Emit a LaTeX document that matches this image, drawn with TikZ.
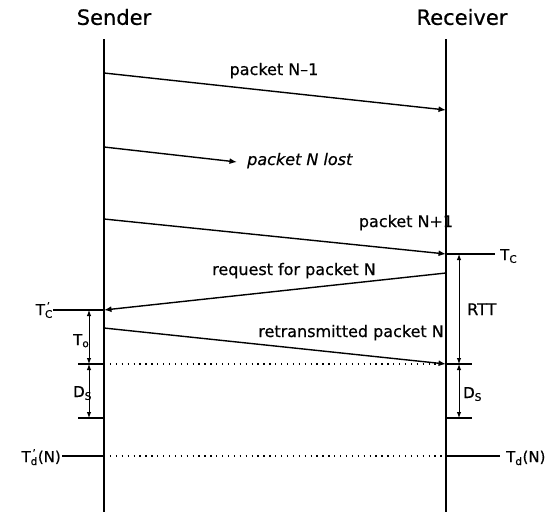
\documentclass[tikz,border=0pt]{standalone}
\usepackage{fontspec}
\setmainfont{DejaVu Sans}[FakeBold=0.6]
\usetikzlibrary{arrows.meta}

\newcommand{\Tpr}[1]{T\rlap{\textsuperscript{\,’}}\textsubscript{#1}}

\begin{document}
\begin{tikzpicture}[x=1pt,y=-1pt,
    lifeline/.style={line width=2.3pt},
    msg/.style={line width=1.4pt,-{Latex[length=7.5pt,width=6pt]}},
    dimarrow/.style={line width=1pt,{Latex[length=6pt,width=4.5pt]}-{Latex[length=6pt,width=4.5pt]}},
    tickline/.style={line width=1.4pt},
    dots/.style={line width=1.3pt,dash pattern=on 1.3pt off 4.6pt},
    lbl/.style={font=\fontsize{16}{18}\selectfont,inner sep=0pt},
    head/.style={font=\fontsize{21}{24}\selectfont,inner sep=0pt},
    tlbl/.style={font=\fontsize{15}{17}\selectfont,inner sep=0pt}]

  \useasboundingbox (0,0) rectangle (548,512);

  % time lines
  \coordinate (s0) at (104,39);
  \coordinate (s9) at (104,512);
  \coordinate (r0) at (446,39);
  \coordinate (r9) at (446,512);
  \draw[lifeline] (s0) -- (s9);
  \draw[lifeline] (r0) -- (r9);
  \node[head] (sender) at (114,17) {Sender};
  \node[head] (receiver) at (462,17) {Receiver};

  % packets
  \coordinate (s1) at (104,73);   \coordinate (r1) at (446,110);
  \coordinate (s2) at (104,147);  \coordinate (lost) at (237,162);
  \coordinate (s3) at (104,219);  \coordinate (r3) at (446,254);
  \coordinate (r4) at (446,273);  \coordinate (s4) at (104,310);
  \coordinate (s5) at (104,328);  \coordinate (r5) at (446,364);
  \draw[msg] (s1) -- (r1);
  \draw[msg] (s2) -- (lost);
  \draw[msg] (s3) -- (r3);
  \draw[msg] (r4) -- (s4);
  \draw[msg] (s5) -- (r5);

  \node[lbl,anchor=base] (pkt1) at (274,75) {packet N–1};
  \node[lbl,anchor=base west,font=\fontsize{16}{18}\selectfont\itshape]
      (pktlost) at (247,165) {packet N lost};
  \node[lbl,anchor=base] (pkt3) at (406,227) {packet N+1};
  \node[lbl,anchor=base] (req) at (294,275) {request for packet N};
  \node[lbl,anchor=base east] (retx) at (444,337) {retransmitted packet N};

  % sender side: T_o and D_S
  \coordinate (sC) at (53,310);
  \coordinate (sA) at (104,364);  \coordinate (sAl) at (78,364);
  \coordinate (sB) at (104,418);  \coordinate (sBl) at (78,418);
  \coordinate (dl1) at (89,310);  \coordinate (dl2) at (89,364);
  \coordinate (dl3) at (89,418);
  \draw[tickline] (sC) -- (s4);
  \draw[tickline] (sAl) -- (sA);
  \draw[tickline] (sBl) -- (sB);
  \draw[dimarrow] (dl1) -- (dl2);
  \draw[dimarrow] (dl2) -- (dl3);
  \node[tlbl,anchor=base east] (tcp) at (53,315) {\Tpr{C}};
  \node[tlbl,anchor=base west] (to) at (73,345) {T\textsubscript{o}};
  \node[tlbl,anchor=base west] (dsl) at (73,397) {D\textsubscript{S}};

  % receiver side: RTT and D_S
  \coordinate (rC) at (495,254);
  \coordinate (rA) at (472,364);
  \coordinate (rB) at (446,418);  \coordinate (rBr) at (472,418);
  \coordinate (dr1) at (459,254); \coordinate (dr2) at (459,364);
  \coordinate (dr3) at (459,418);
  \draw[tickline] (r3) -- (rC);
  \draw[tickline] (r5) -- (rA);
  \draw[tickline] (rB) -- (rBr);
  \draw[dimarrow] (dr1) -- (dr2);
  \draw[dimarrow] (dr2) -- (dr3);
  \node[tlbl,anchor=base west] (tc) at (500,260) {T\textsubscript{C}};
  \node[lbl,anchor=base west] (rtt) at (467,315) {RTT};
  \node[tlbl,anchor=base west] (dsr) at (463,398) {D\textsubscript{S}};

  \draw[dots] (sA) -- (r5);

  % delivery time
  \coordinate (sD) at (104,456);  \coordinate (sDl) at (62,456);
  \coordinate (rD) at (446,456);  \coordinate (rDr) at (500,456);
  \draw[tickline] (sDl) -- (sD);
  \draw[tickline] (rD) -- (rDr);
  \draw[dots] (sD) -- (rD);
  \node[tlbl,anchor=base east] (tdp) at (61,462) {\Tpr{d}(N)};
  \node[tlbl,anchor=base west] (td) at (506,462) {T\textsubscript{d}(N)};
\end{tikzpicture}
\end{document}
